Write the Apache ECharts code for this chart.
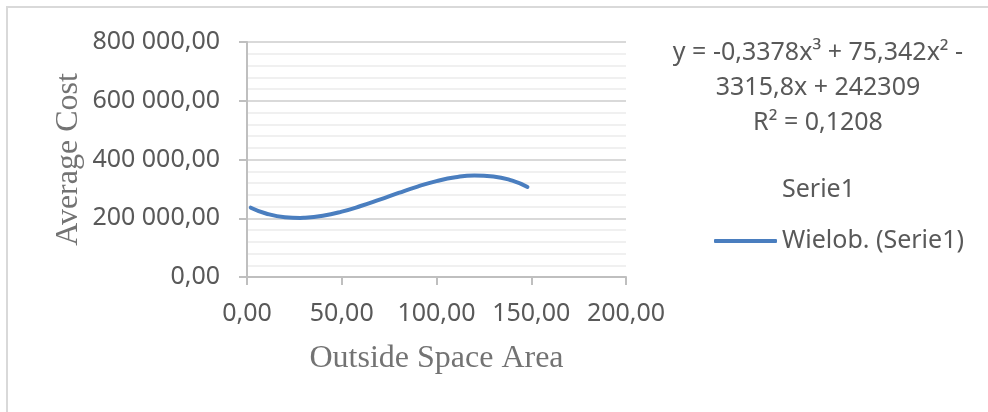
<!DOCTYPE html>
<html>
<head>
<meta charset="utf-8">
<title>Average Cost vs Outside Space Area</title>
<script src="https://cdn.jsdelivr.net/npm/echarts@6/dist/echarts.min.js"></script>
<style>
  html, body { margin: 0; padding: 0; background: #ffffff; }
  #chart { width: 988px; height: 412px; }
</style>
</head>
<body>
<div id="chart"></div>
<script>
// Polynomial trend curve (order 3) sampled along Outside Space Area
const areaValues = [2, 10, 20, 28, 30, 40, 50, 60, 70, 80, 90, 100, 110, 120, 130, 140, 148];
const costValues = [236000, 216300, 203400, 201100, 201500, 208600, 222600, 241600, 263500,
                    286300, 307900, 326300, 339600, 345600, 342400, 327900, 306700];

// Axis ranges and ticks
const xTicks = [0, 50, 100, 150, 200];
const yTicks = [0, 200000, 400000, 600000, 800000];

// Texts
const xTitle = 'Outside Space Area';
const yTitle = 'Average Cost';
const seriesName = 'Serie1';
const trendName = 'Wielob. (Serie1)';
const equationLines = ['y = -0,3378x³ + 75,342x² -', '3315,8x + 242309', 'R² = 0,1208'];

const labelGrey = '#595959';
const titleGrey = '#737373';
const lineBlue = '#4a7ebf';

function fmtNumber(v) {
  const parts = v.toFixed(2).split('.');
  const intPart = parts[0].replace(/\B(?=(\d{3})+(?!\d))/g, ' ');
  return intPart + ',' + parts[1];
}

const trendData = areaValues.map((x, i) => [x, costValues[i]]);

const chart = echarts.init(document.getElementById('chart'), null, { renderer: 'canvas' });

chart.setOption({
  animation: false,
  backgroundColor: '#ffffff',
  grid: { left: 247, top: 42, right: 362, bottom: 135, containLabel: false },
  xAxis: {
    type: 'value',
    min: xTicks[0],
    max: xTicks[xTicks.length - 1],
    interval: xTicks[1] - xTicks[0],
    name: xTitle,
    nameLocation: 'middle',
    nameGap: 66,
    nameTextStyle: { fontFamily: 'Liberation Serif', fontSize: 32, color: titleGrey, verticalAlign: 'top' },
    axisLine: { show: true, onZero: false, lineStyle: { color: '#bfbfbf', width: 2 } },
    axisTick: { show: true, inside: false, length: 8, lineStyle: { color: '#bfbfbf', width: 2 } },
    axisLabel: { formatter: fmtNumber, fontFamily: 'Noto Sans', fontSize: 25, color: labelGrey, margin: 24 },
    splitLine: { show: false }
  },
  yAxis: {
    type: 'value',
    min: yTicks[0],
    max: yTicks[yTicks.length - 1],
    interval: yTicks[1] - yTicks[0],
    name: yTitle,
    nameLocation: 'middle',
    nameGap: 162,
    nameRotate: 90,
    nameTextStyle: { fontFamily: 'Liberation Serif', fontSize: 32, color: titleGrey },
    axisLine: { show: true, onZero: false, lineStyle: { color: '#bfbfbf', width: 2 } },
    axisTick: { show: true, inside: false, length: 8, lineStyle: { color: '#bfbfbf', width: 2 } },
    axisLabel: { formatter: fmtNumber, fontFamily: 'Noto Sans', fontSize: 25, color: labelGrey, margin: 27 },
    splitLine: { show: true, lineStyle: { color: '#d9d9d9', width: 2 } },
    minorTick: { show: false, splitNumber: 5 },
    minorSplitLine: { show: true, lineStyle: { color: '#f0f0f0', width: 2 } }
  },
  legend: {
    orient: 'vertical',
    left: 709,
    top: 170,
    itemWidth: 63,
    itemHeight: 4,
    itemGap: 21,
    selectedMode: false,
    textStyle: { fontFamily: 'Noto Sans', fontSize: 25, color: labelGrey, lineHeight: 30 },
    data: [
      { name: seriesName, icon: 'none' },
      { name: trendName, icon: 'roundRect' }
    ]
  },
  graphic: [
    {
      type: 'rect',
      silent: true,
      shape: { x: 7, y: 7, width: 1000, height: 430 },
      style: { fill: 'none', stroke: '#d9d9d9', lineWidth: 2 }
    },
    {
      type: 'text',
      silent: true,
      style: {
        x: 818,
        y: 35,
        text: equationLines.join('\n'),
        align: 'center',
        verticalAlign: 'top',
        fontFamily: 'Noto Sans',
        fontSize: 25,
        lineHeight: 35,
        fill: labelGrey
      }
    }
  ],
  series: [
    {
      name: seriesName,
      type: 'scatter',
      data: [],
      symbolSize: 0
    },
    {
      name: trendName,
      type: 'line',
      data: trendData,
      smooth: true,
      showSymbol: false,
      symbol: 'none',
      lineStyle: { color: lineBlue, width: 4, cap: 'round' },
      itemStyle: { color: lineBlue }
    }
  ]
});
</script>
</body>
</html>
